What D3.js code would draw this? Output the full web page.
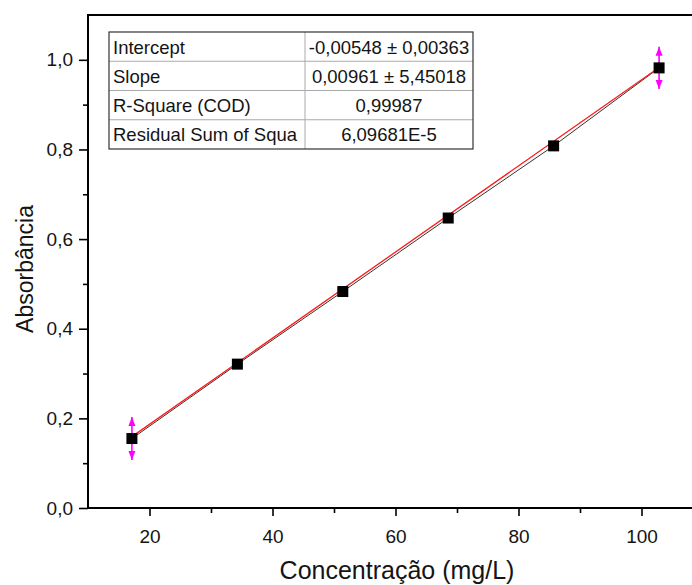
<!DOCTYPE html>
<html>
<head>
<meta charset="utf-8">
<script src="https://cdn.jsdelivr.net/npm/d3@7"></script>
<style>
  body { margin: 0; background: #fff; }
  svg { display: block; font-family: "Liberation Sans", Arial, sans-serif; }
</style>
</head>
<body>
<div id="chart"></div>
<script>
// data
const concentration = [17.14, 34.29, 51.43, 68.57, 85.71, 102.86];
const absorbance = [0.155, 0.321, 0.483, 0.647, 0.808, 0.982];
const errorBars = [0.048, 0, 0, 0, 0, 0.047];
const fitIntercept = -0.00548;
const fitSlope = 0.00961;
const xTicks = [20, 40, 60, 80, 100];
const xMinorTicks = [30, 50, 70, 90];
const yTicks = [0, 0.2, 0.4, 0.6, 0.8, 1.0];
const yMinorTicks = [0.1, 0.3, 0.5, 0.7, 0.9];
const tableLabels = ["Intercept", "Slope", "R-Square (COD)", "Residual Sum of Squa"];
const tableValues = ["-0,00548 \u00b1 0,00363", "0,00961 \u00b1 5,45018", "0,99987", "6,09681E-5"];

const width = 692, height = 585;
const margin = { top: 15, left: 88 };
const plotW = 615, plotH = 493;

const svg = d3.select("#chart").append("svg")
  .attr("width", width)
  .attr("height", height);

const x = d3.scaleLinear().domain([10, 110]).range([margin.left, margin.left + plotW]);
const y = d3.scaleLinear().domain([0, 1.1]).range([margin.top + plotH, margin.top]);

const comma = d => d3.format(".1f")(d).replace(".", ",");

// axes
svg.append("g")
  .attr("transform", `translate(0,${y(0)})`)
  .call(d3.axisBottom(x).tickValues(xTicks).tickSize(8).tickPadding(14).tickFormat(d3.format("d")));
svg.append("g")
  .attr("transform", `translate(0,${y(0)})`)
  .call(d3.axisBottom(x).tickValues(xMinorTicks).tickSize(5).tickFormat(""))
  .call(g => g.select(".domain").remove());

svg.append("g")
  .attr("transform", `translate(${x(10)},0)`)
  .call(d3.axisLeft(y).tickValues(yTicks).tickSize(9).tickPadding(6).tickFormat(comma));
svg.append("g")
  .attr("transform", `translate(${x(10)},0)`)
  .call(d3.axisLeft(y).tickValues(yMinorTicks).tickSize(5).tickFormat(""))
  .call(g => g.select(".domain").remove());

svg.selectAll(".domain").remove();
svg.selectAll(".tick line").attr("stroke-width", 1.6);
svg.selectAll(".tick text").style("font-size", "19px").attr("fill", "#141414");

// frame
svg.append("rect")
  .attr("x", x(10))
  .attr("y", y(1.1))
  .attr("width", x(110) - x(10))
  .attr("height", y(0) - y(1.1))
  .attr("fill", "none")
  .attr("stroke", "#000")
  .attr("stroke-width", 2);

// axis titles
svg.append("text")
  .attr("x", 397)
  .attr("y", 579)
  .attr("text-anchor", "middle")
  .style("font-size", "25px")
  .attr("fill", "#141414")
  .text("Concentração (mg/L)");

svg.append("text")
  .attr("transform", "rotate(-90)")
  .attr("x", -269)
  .attr("y", 33)
  .attr("text-anchor", "middle")
  .style("font-size", "23px")
  .attr("fill", "#141414")
  .text("Absorbância");

// connecting line + linear fit
const pts = concentration.map((c, i) => ({ c, a: absorbance[i], e: errorBars[i] }));
svg.append("path")
  .datum(pts)
  .attr("fill", "none")
  .attr("stroke", "#333")
  .attr("stroke-width", 1)
  .attr("d", d3.line().x(d => x(d.c)).y(d => y(d.a)));

const xFit = d3.extent(concentration);
svg.append("line")
  .attr("x1", x(xFit[0])).attr("y1", y(fitIntercept + fitSlope * xFit[0]))
  .attr("x2", x(xFit[1])).attr("y2", y(fitIntercept + fitSlope * xFit[1]))
  .attr("stroke", "#ff1a1a")
  .attr("stroke-width", 1.3);

// error bars
pts.filter(d => d.e > 0).forEach(d => {
  const cx = x(d.c), top = y(d.a + d.e), bot = y(d.a - d.e);
  svg.append("line")
    .attr("x1", cx).attr("x2", cx).attr("y1", top).attr("y2", bot)
    .attr("stroke", "#ff00ff").attr("stroke-width", 1.6);
  svg.append("path")
    .attr("d", `M${cx},${top} L${cx - 3.5},${top + 9} L${cx + 3.5},${top + 9} Z`)
    .attr("fill", "#ff00ff");
  svg.append("path")
    .attr("d", `M${cx},${bot} L${cx - 3.5},${bot - 9} L${cx + 3.5},${bot - 9} Z`)
    .attr("fill", "#ff00ff");
});

// markers
svg.selectAll(".pt")
  .data(pts)
  .enter()
  .append("rect")
  .attr("class", "pt")
  .attr("x", d => x(d.c) - 5.5)
  .attr("y", d => y(d.a) - 5.5)
  .attr("width", 11)
  .attr("height", 11)
  .attr("fill", "#000");

// fit table
const tbl = svg.append("g").attr("transform", "translate(109,32)");
const rowH = 29.25, col1 = 196, col2 = 168;
tableLabels.forEach((lab, i) => {
  tbl.append("text")
    .attr("x", 4)
    .attr("y", i * rowH + 21.5)
    .style("font-size", "18.5px")
    .attr("fill", "#141414")
    .text(lab);
  tbl.append("text")
    .attr("x", col1 + col2 / 2)
    .attr("y", i * rowH + 21.5)
    .attr("text-anchor", "middle")
    .style("font-size", "18.5px")
    .attr("fill", "#141414")
    .text(tableValues[i]);
  if (i > 0) {
    tbl.append("line")
      .attr("x1", 0).attr("x2", col1 + col2)
      .attr("y1", i * rowH).attr("y2", i * rowH)
      .attr("stroke", "#aaa");
  }
});
tbl.append("line")
  .attr("x1", col1).attr("x2", col1)
  .attr("y1", 0).attr("y2", rowH * 4)
  .attr("stroke", "#aaa");
tbl.append("rect")
  .attr("width", col1 + col2)
  .attr("height", rowH * 4)
  .attr("fill", "none")
  .attr("stroke", "#333")
  .attr("stroke-width", 1.2);
</script>
</body>
</html>
